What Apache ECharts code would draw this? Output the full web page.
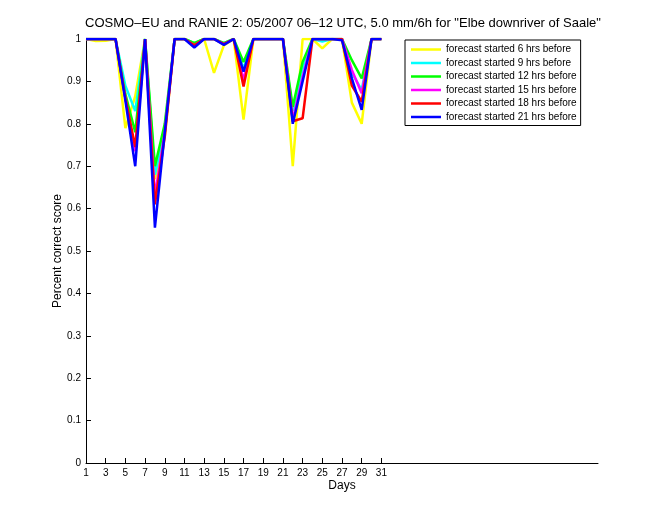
<!DOCTYPE html>
<html><head><meta charset="utf-8">
<script src="https://cdn.jsdelivr.net/npm/echarts@6/dist/echarts.min.js"></script>
<style>html,body{margin:0;padding:0;background:#fff}#c{width:660px;height:520px}</style>
</head><body><div id="c"></div>
<script>
const days = Array.from({length:31}, (_, i) => i + 1);
const xTicks = [1,3,5,7,9,11,13,15,17,19,21,23,25,27,29,31];
const yTicks = [0,0.1,0.2,0.3,0.4,0.5,0.6,0.7,0.8,0.9,1];
const names = ['forecast started 6 hrs before','forecast started 9 hrs before','forecast started 12 hrs before','forecast started 15 hrs before','forecast started 18 hrs before','forecast started 21 hrs before'];
const colors = ['#ffff00','#00ffff','#00ff00','#ff00ff','#ff0000','#0000ff'];
const h6  = [1,0.995,0.996,1,0.79,0.865,1,0.67,0.77,1,1,0.99,1,0.92,0.985,1,0.81,1,1,1,1,0.70,1,1,0.978,1,1,0.85,0.80,1,1];
const h9  = [1,1,1,1,0.89,0.83,1,0.68,0.79,1,1,0.99,1,1,0.99,1,0.93,1,1,1,1,0.83,0.93,1,0.994,1,1,0.92,0.88,1,1];
const h12 = [1,1,1,1,0.87,0.78,1,0.70,0.80,1,1,0.99,1,1,0.99,1,0.946,1,1,1,1,0.84,0.946,1,1,1,1,0.95,0.907,1,1];
const h15 = [1,1,1,1,0.86,0.735,1,0.63,0.78,1,1,0.985,1,1,0.988,1,0.903,1,1,1,1,0.81,0.91,1,1,1,1,0.927,0.872,1,1];
const h18 = [1,1,1,1,0.86,0.745,1,0.61,0.77,1,1,0.985,1,1,0.988,1,0.888,1,1,1,1,0.806,0.813,1,1,1,1,0.89,0.852,1,1];
const h21 = [1,1,1,1,0.855,0.70,1,0.555,0.78,1,1,0.98,1,1,0.986,1,0.923,1,1,1,1,0.80,0.90,1,1,1,0.997,0.907,0.833,1,1];
const values = [h6,h9,h12,h15,h18,h21];

const chart = echarts.init(document.getElementById('c'));
const font = 'Liberation Sans, Arial, sans-serif';
chart.setOption({
  animation:false,
  backgroundColor:'#fff',
  title:{text:'COSMO\u2013EU and RANIE 2: 05/2007 06\u201312 UTC, 5.0 mm/6h for "Elbe downriver of Saale"',
    left:338, textAlign:'center', top:12, textStyle:{fontFamily:font,fontSize:13,fontWeight:'normal',color:'#000'}},
  grid:{left:86,right:62,top:39,bottom:57},
  legend:{orient:'vertical',left:405,top:40,data:names,icon:'rect',itemWidth:30,itemHeight:2.5,itemGap:1.5,
    borderColor:'#000',borderWidth:1,borderRadius:0,padding:[3.5,4,2.5,6],backgroundColor:'#fff',
    textStyle:{fontFamily:font,fontSize:10,color:'#000',lineHeight:12}},
  xAxis:{type:'value',min:1,max:53,name:'Days',nameLocation:'middle',nameGap:17,nameMoveOverlap:false,
    nameTextStyle:{fontFamily:font,fontSize:12,color:'#000'},
    axisLine:{lineStyle:{color:'#000'}},
    axisTick:{inside:true,length:5,customValues:xTicks,lineStyle:{color:'#000'}},
    axisLabel:{customValues:xTicks,fontFamily:font,fontSize:10,color:'#000',margin:5},
    splitLine:{show:false}},
  yAxis:{type:'value',min:0,max:1,interval:0.1,name:'Percent correct score',nameLocation:'middle',nameGap:22,nameMoveOverlap:false,
    nameTextStyle:{fontFamily:font,fontSize:12,color:'#000'},
    axisLine:{show:true,lineStyle:{color:'#000'}},
    axisTick:{show:true,inside:true,length:5,lineStyle:{color:'#000'}},
    axisLabel:{fontFamily:font,fontSize:10,color:'#000',margin:5,formatter:v=>String(Math.round(v*10)/10)},
    splitLine:{show:false}},
  series: values.map((vals,i)=>({name:names[i],type:'line',symbol:'none',color:colors[i],
    lineStyle:{width:2.5,color:colors[i]},data:days.map((d,j)=>[d,vals[j]])}))
});
</script></body></html>
